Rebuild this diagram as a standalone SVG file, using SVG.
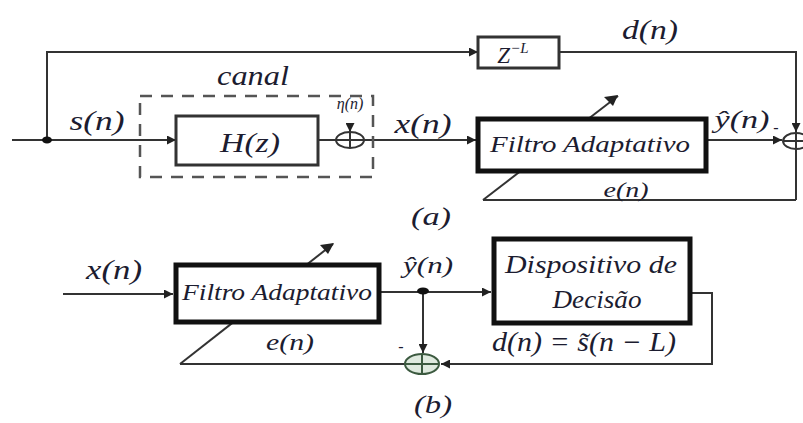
<svg xmlns="http://www.w3.org/2000/svg" width="803" height="423" viewBox="0 0 803 423">
<defs>
<marker id="ahs" viewBox="0 0 10 10" refX="10" refY="5" markerWidth="9" markerHeight="9" orient="auto" markerUnits="userSpaceOnUse">
<path d="M0,0 L10,5 L0,10 z" fill="#222"/>
</marker>
</defs>
<style>
.ln{fill:none;stroke:#333;stroke-width:2}
.arr{marker-end:url(#ahs)}
.box{fill:#fff;stroke:#111;stroke-width:5}
.thin{fill:#fff;stroke:#333;stroke-width:3}
.t{font-family:'Liberation Serif',serif;font-style:italic;fill:#1c1c30}
.sum{fill:none;stroke:#333;stroke-width:2}
</style>
<rect width="803" height="423" fill="#fff"/>

<g id="connectors">
  <path class="ln" d="M12,140 H47"/>
  <path class="ln arr" d="M47,140 H176"/>
  <path class="ln" d="M47,140 V52 H796 V200"/>
  <path class="ln arr" d="M420,52 H478"/>
  <path class="ln" d="M318,140 H336"/>
  <path class="ln arr" d="M350,125 V132"/>
  <path class="ln arr" d="M364,140 H476"/>
  <path class="ln arr" d="M708,140 H782"/>
  <path class="ln arr" d="M796,120 V132"/>
  <path class="ln" d="M796,200 H483"/>
  <path class="ln" d="M483,200 L618,96" stroke-width="2.2"/>
  <path d="M618,95 L604,97 L613,106 z" fill="#222"/>
  <path class="ln arr" d="M63,294 H173"/>
  <path class="ln" d="M381,292 H423"/>
  <path class="ln arr" d="M423,292 H491"/>
  <path class="ln arr" d="M423,292 V353" stroke="#111"/>
  <path class="ln" d="M692,293 H712 V364 H450"/>
  <path class="ln arr" d="M470,364 H441"/>
  <path class="ln" d="M405,364 H180"/>
  <path class="ln" d="M180,364 L333,244" stroke-width="2.2"/>
  <path d="M334,243 L320,245 L328,254 z" fill="#222"/>
</g>

<g id="canal">
  <rect x="140" y="96" width="233" height="81" fill="none" stroke="#555" stroke-width="2.5" stroke-dasharray="12,9"/>
  <text class="t" x="253" y="85" font-size="27" text-anchor="middle" textLength="72" lengthAdjust="spacingAndGlyphs">canal</text>
</g>

<g id="Hz">
  <rect class="thin" x="176" y="116" width="142" height="49"/>
  <text class="t" x="250" y="152" font-size="28" text-anchor="middle" textLength="60" lengthAdjust="spacingAndGlyphs">H(z)</text>
</g>

<g id="sum-noise">
  <ellipse class="sum" cx="350" cy="140" rx="14" ry="8"/>
  <path class="sum" d="M336,140 H364 M350,132 V148"/>
  <text class="t" x="350" y="109" font-size="16" text-anchor="middle">η(n)</text>
</g>

<g id="delay">
  <rect class="thin" x="478" y="37" width="81" height="31"/>
  <text class="t" x="513" y="63" font-size="23" text-anchor="middle">Z<tspan font-size="15" dy="-10">−L</tspan></text>
</g>

<g id="filtro-a">
  <rect class="box" x="478" y="119" width="228" height="52"/>
  <text class="t" x="590" y="152" font-size="24" text-anchor="middle" textLength="200" lengthAdjust="spacingAndGlyphs">Filtro Adaptativo</text>
</g>

<g id="sum-a">
  <ellipse class="sum" cx="796" cy="141" rx="13" ry="8"/>
  <path class="sum" d="M783,141 H809 M796,133 V149"/>
</g>

<g id="labels-a">
  <text class="t" x="97" y="130" font-size="28" text-anchor="middle" textLength="55" lengthAdjust="spacingAndGlyphs">s(n)</text>
  <text class="t" x="423" y="133" font-size="28" text-anchor="middle" textLength="57" lengthAdjust="spacingAndGlyphs">x(n)</text>
  <text class="t" x="650" y="39" font-size="28" text-anchor="middle" textLength="56" lengthAdjust="spacingAndGlyphs">d(n)</text>
  <text class="t" x="742" y="128" font-size="25" text-anchor="middle" textLength="55" lengthAdjust="spacingAndGlyphs">ŷ(n)</text>
  <text class="t" x="776" y="133" font-size="16" text-anchor="middle">-</text>
  <text class="t" x="626" y="197" font-size="21" text-anchor="middle" textLength="45" lengthAdjust="spacingAndGlyphs">e(n)</text>
  <text class="t" x="431" y="225" font-size="26" text-anchor="middle" textLength="40" lengthAdjust="spacingAndGlyphs">(a)</text>
</g>

<g id="filtro-b">
  <rect class="box" x="176" y="265" width="203" height="57"/>
  <text class="t" x="277" y="300" font-size="23" text-anchor="middle" textLength="190" lengthAdjust="spacingAndGlyphs">Filtro Adaptativo</text>
</g>

<g id="decisao">
  <rect class="box" x="494" y="239" width="196" height="84"/>
  <text class="t" x="591" y="273" font-size="25" text-anchor="middle" textLength="172" lengthAdjust="spacingAndGlyphs">Dispositivo de</text>
  <text class="t" x="597" y="308" font-size="25" text-anchor="middle" textLength="89" lengthAdjust="spacingAndGlyphs">Decisão</text>
</g>

<g id="junction-dots">
  <ellipse cx="47" cy="140" rx="5" ry="3.5" fill="#111"/>
  <ellipse cx="423" cy="291" rx="6" ry="3.5" fill="#111"/>
</g>

<g id="sum-b">
  <ellipse cx="422" cy="364" rx="17" ry="10" fill="#dfeadf" stroke="#3c5a40" stroke-width="2"/>
  <path d="M405,364 H439 M422,354 V374" stroke="#3c5a40" stroke-width="2" fill="none"/>
</g>

<g id="labels-b">
  <text class="t" x="114" y="279" font-size="28" text-anchor="middle" textLength="56" lengthAdjust="spacingAndGlyphs">x(n)</text>
  <text class="t" x="428" y="273" font-size="23" text-anchor="middle" textLength="50" lengthAdjust="spacingAndGlyphs">ŷ(n)</text>
  <text class="t" x="290" y="350" font-size="23" text-anchor="middle" textLength="48" lengthAdjust="spacingAndGlyphs">e(n)</text>
  <text class="t" x="401" y="352" font-size="16" text-anchor="middle">-</text>
  <text class="t" x="584" y="351" font-size="27" text-anchor="middle" textLength="184" lengthAdjust="spacingAndGlyphs">d(n) = s̃(n − L)</text>
  <text class="t" x="433" y="413" font-size="26" text-anchor="middle" textLength="38" lengthAdjust="spacingAndGlyphs">(b)</text>
</g>
</svg>
